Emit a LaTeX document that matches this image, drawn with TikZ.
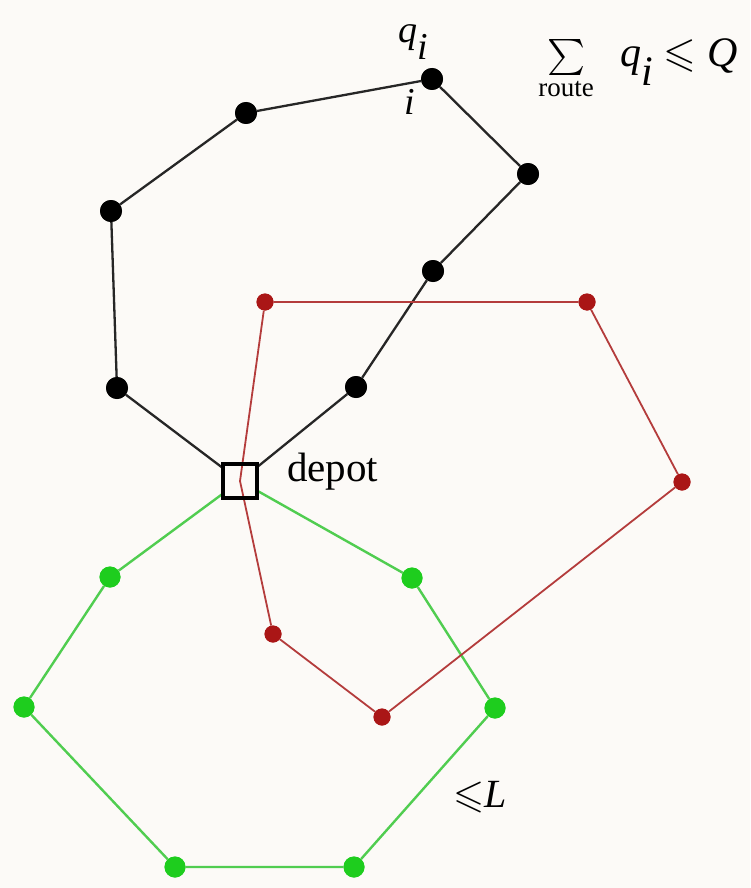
\documentclass[tikz,border=0pt]{standalone}
\usepackage{amssymb}
\usepackage{fontspec}
\setmainfont{Liberation Serif}
\definecolor{bg}{RGB}{252,250,247}
\definecolor{rdot}{RGB}{170,22,22}
\definecolor{rline}{RGB}{180,60,60}
\definecolor{gdot}{RGB}{30,205,30}
\definecolor{gline}{RGB}{80,205,80}
\begin{document}
\begin{tikzpicture}[x=1pt,y=-1pt,
  bdot/.style={circle,fill=black,inner sep=0pt,minimum size=22pt},
  rdotst/.style={circle,fill=rdot,inner sep=0pt,minimum size=17pt},
  gdotst/.style={circle,fill=gdot,inner sep=0pt,minimum size=21pt},
  bline/.style={line width=2.3pt,black!85},
  rlinest/.style={line width=1.8pt,rline},
  glinest/.style={line width=2.4pt,gline},
  lab/.style={inner sep=0pt,font=\fontsize{38}{42}\selectfont}]
\fill[bg] (0,0) rectangle (750,888);
\useasboundingbox (0,0) rectangle (750,888);
% depot position
\coordinate (d) at (240,481);
% black route
\node[bdot] (b1) at (117,388) {};
\node[bdot] (b2) at (111,211) {};
\node[bdot] (b3) at (246,113) {};
\node[bdot] (b4) at (432,79) {};
\node[bdot] (b5) at (528,174) {};
\node[bdot] (b6) at (433,271) {};
\node[bdot] (b7) at (356,387) {};
% red route
\node[rdotst] (r1) at (265,302) {};
\node[rdotst] (r2) at (587,302) {};
\node[rdotst] (r3) at (682,482) {};
\node[rdotst] (r4) at (382,717) {};
\node[rdotst] (r5) at (273,634) {};
% green route
\node[gdotst] (g1) at (110,577) {};
\node[gdotst] (g2) at (24,707) {};
\node[gdotst] (g3) at (175,867) {};
\node[gdotst] (g4) at (354,867) {};
\node[gdotst] (g5) at (495,708) {};
\node[gdotst] (g6) at (412,578) {};
\node[draw=black,line width=4pt,minimum size=34pt,inner sep=0pt] (depot) at (d) {};
\draw[glinest] (d) -- (g1) -- (g2) -- (g3) -- (g4) -- (g5) -- (g6) -- (d);
\draw[bline] (d) -- (b1) -- (b2) -- (b3) -- (b4) -- (b5) -- (b6) -- (b7) -- (d);
\fill[bg] (d) ++(-17,-17) rectangle ++(34,34);
\draw[rlinest] (d) -- (r1) -- (r2) -- (r3) -- (r4) -- (r5) -- (d);
\draw[black,line width=4pt] (d) ++(-17,-17) rectangle ++(34,34);
% dots on top of the lines
\foreach \n in {b1,b2,b3,b4,b5,b6,b7} \fill[black] (\n) circle (11pt);
\foreach \n in {r1,r2,r3,r4,r5} \fill[rdot] (\n) circle (8.5pt);
\foreach \n in {g1,g2,g3,g4,g5,g6} \fill[gdot] (\n) circle (10.5pt);
\node[lab,anchor=west,font=\fontsize{41}{44}\selectfont] (dlab) at (287,472) {depot};
\node[lab] (qi) at (414,42) {\textit{q}$_{\textit{i}}$};
\node[lab] (ii) at (410,102) {\textit{i}};
\node[lab,font=\fontsize{36}{40}\selectfont] (sum) at (566,58) {$\sum$};
\node[lab,font=\fontsize{27}{29}\selectfont] (route) at (566,89) {route};
\node[lab,anchor=west,font=\fontsize{42}{46}\selectfont] (qq) at (620,62) {\textit{q}$_{\textit{i}}$ $\leqslant$ \textit{Q}};
\node[lab,font=\fontsize{40}{44}\selectfont] (lL) at (480,797) {$\leqslant$\textit{L}};
\end{tikzpicture}
\end{document}
